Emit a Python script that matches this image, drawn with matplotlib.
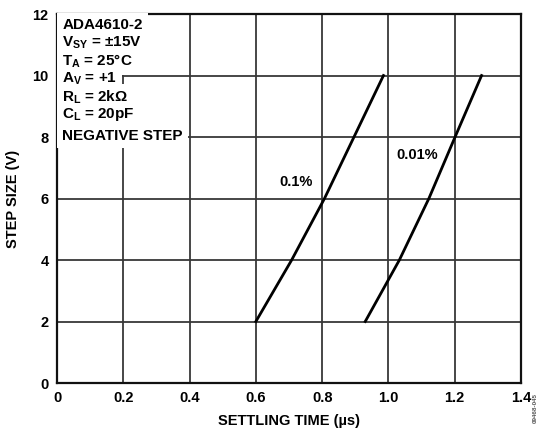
import matplotlib
matplotlib.use("Agg")
import matplotlib.pyplot as plt

plt.rcParams['font.family'] = ['Liberation Sans', 'DejaVu Sans']
plt.rcParams['font.weight'] = 'bold'
plt.rcParams['mathtext.fontset'] = 'custom'
plt.rcParams['mathtext.rm'] = 'Liberation Sans:bold'
plt.rcParams['mathtext.bf'] = 'Liberation Sans:bold'
plt.rcParams['mathtext.it'] = 'Liberation Sans:bold'

# Settling time (µs) vs. step size (V)
step_size = [2, 4, 6, 8, 10]
settle_01 = [0.600, 0.708, 0.807, 0.896, 0.985]     # 0.1% accuracy
settle_001 = [0.930, 1.033, 1.122, 1.201, 1.281]    # 0.01% accuracy

x_ticks = [0, 0.2, 0.4, 0.6, 0.8, 1.0, 1.2, 1.4]
x_tick_labels = ['0', '0.2', '0.4', '0.6', '0.8', '1.0', '1.2', '1.4']
y_ticks = [0, 2, 4, 6, 8, 10, 12]

conditions = [
    'ADA4610-2',
    r'V$_{SY}$ = ±15V',
    r'T$_{A}$ = 25°C',
    r'A$_{V}$ = +1',
    r'R$_{L}$ = 2kΩ',
    r'C$_{L}$ = 20pF',
    'NEGATIVE STEP',
]
condition_y = [11.64, 11.06, 10.47, 9.89, 9.29, 8.72, 8.03]

fig = plt.figure(figsize=(5.43, 4.34), dpi=100)
ax = fig.add_axes([0.105, 0.1175, 0.8545, 0.8502])

ax.plot(settle_01, step_size, color='black', lw=2.0, zorder=3)
ax.plot(settle_001, step_size, color='black', lw=2.0, zorder=3)

ax.text(0.722, 6.55, '0.1%', fontsize=10.5, fontweight='bold',
        ha='center', va='center', zorder=4)
ax.text(1.087, 7.41, '0.01%', fontsize=10.5, fontweight='bold',
        ha='center', va='center', zorder=4)

# white backing boxes first, then the condition text on top of all of them
for txt, yy in zip(conditions, condition_y):
    ax.text(0.016, yy, txt, fontsize=11, fontweight='bold', ha='left',
            va='center', color='white', zorder=4,
            bbox=dict(facecolor='white', edgecolor='none', pad=3.5))
for txt, yy in zip(conditions, condition_y):
    ax.text(0.016, yy, txt, fontsize=11, fontweight='bold', ha='left',
            va='center', color='black', zorder=5)

ax.set_xlim(0, 1.4)
ax.set_ylim(0, 12)
ax.set_xticks(x_ticks)
ax.set_xticklabels(x_tick_labels)
ax.set_yticks(y_ticks)
ax.grid(True, color='#383838', lw=1.3, zorder=1)
ax.set_axisbelow(True)
for sp in ax.spines.values():
    sp.set_linewidth(1.6)
    sp.set_color('#111111')
ax.tick_params(length=0, pad=6, labelsize=10.5)
for lab in ax.get_xticklabels() + ax.get_yticklabels():
    lab.set_fontweight('bold')

ax.set_xlabel('SETTLING TIME (µs)', fontsize=10.5, fontweight='bold', labelpad=6)
ax.set_ylabel('STEP SIZE (V)', fontsize=10.5, fontweight='bold', labelpad=9)

fig.text(0.985, 0.06, '09468-045', fontsize=4.5, color='#555555',
         rotation=90, ha='center', va='center')

fig.savefig('out.png', dpi=100)
